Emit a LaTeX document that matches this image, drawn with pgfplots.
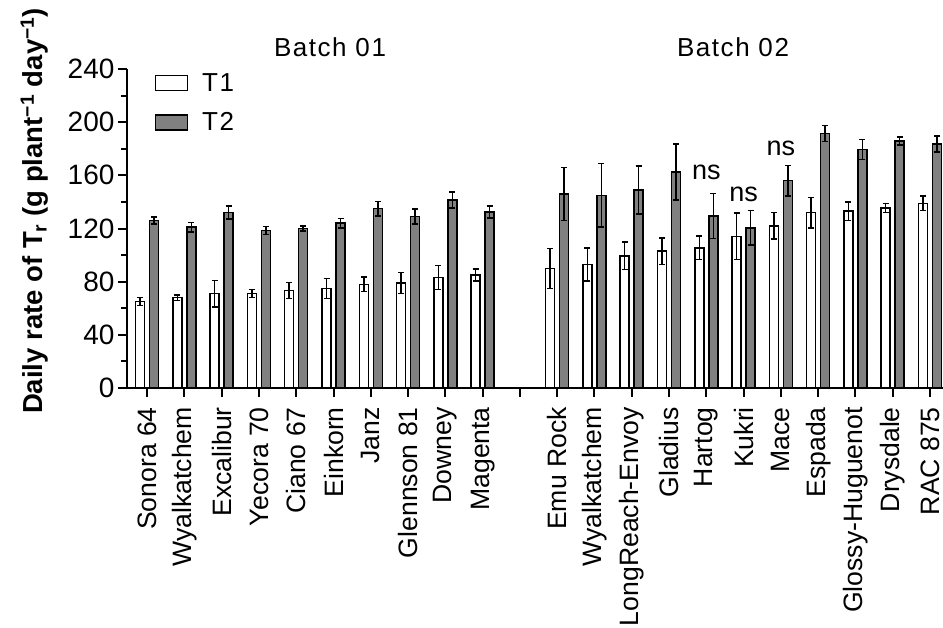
\documentclass[border=0pt]{standalone}
\usepackage{pgfplots}
\pgfplotsset{compat=1.18}
\usepackage{pgfplotstable}
\usepackage{fontspec}
\setmainfont{Liberation Sans}

\definecolor{barT2}{RGB}{128,128,128}
\newcommand\titlefont{\fontsize{26}{30}\selectfont\addfontfeatures{LetterSpace=6}}

% x = category slot (10 is the gap between the two batches)
\pgfplotstableread{
x  t1    e1   t2    e2
0  65    3    126   2.5
1  68    2    121   3.5
2  71    10   132   5
3  71    3    118.5 3
4  73.5  6    120   2
5  75    7.5  124   3.5
6  78    5.5  135   5.5
7  79    8    129   5.5
8  83    9    141.5 6
9  85    4.5  132.5 4.5
11 90    15   146   20
12 93    12.5 145   24
13 99.5  10.5 149   18
14 103   10   162.5 21
15 105.5 9    129.5 17
16 114   17.5 120.5 13
17 122   10   156   11.5
18 132   11.5 191.5 6
19 133   7    179.5 7.5
20 135.5 3.5  186   3
21 139   5.5  183.5 6
}\rates

\begin{document}
\begin{tikzpicture}
\useasboundingbox (0pt,0pt) rectangle (943pt,-627pt);
\clip (0pt,0pt) rectangle (943pt,-627pt);
\begin{axis}[
  at={(127pt,-388pt)}, anchor=south west,
  scale only axis, width=816pt, height=319pt,
  xmin=-0.54, xmax=21.35, ymin=0, ymax=240,
  clip=false,
  axis x line=bottom, axis y line=left,
  axis line style={line width=2.5pt, -},
  ytick={0,40,...,240}, minor ytick={20,60,...,220},
  xtick={0,...,21},
  xticklabels={Sonora 64,Wyalkatchem,Excalibur,Yecora 70,Ciano 67,Einkorn,Janz,Glennson 81,Downey,Magenta,{},Emu Rock,Wyalkatchem,LongReach-Envoy,Gladius,Hartog,Kukri,Mace,Espada,Glossy-Huguenot,Drysdale,RAC 875},
  tick align=outside,
  major tick length=9pt, minor tick length=6pt,
  every tick/.style={black, line width=2pt},
  /pgf/number format/assume math mode=true,
  x tick label style={rotate=90, anchor=east, inner xsep=10pt, font=\fontsize{26.6}{30}\selectfont},
  y tick label style={font=\fontsize{28}{32}\selectfont},
  ylabel={\textbf{Daily rate of T\textsubscript{r} (g plant\textsuperscript{−1} day\textsuperscript{−1})}},
  ylabel style={at={(axis description cs:-0.103,0.555)}, anchor=base, font=\fontsize{27.5}{30}\selectfont},
  legend image code/.code={\draw[#1, line width=1.5pt] (0pt,-7.5pt) rectangle (32pt,7.5pt);},
  legend style={at={(axis description cs:0.03,1.0)}, anchor=north west, draw=none, fill=none,
    font=\titlefont, nodes={font=\titlefont}, row sep=16pt,
    /tikz/every odd column/.append style={column sep=12pt}},
  legend cell align=left,
]
\addplot[ybar, bar width=9pt, bar shift=0pt, draw=black, fill=white, line width=1.5pt,
  error bars/.cd, y dir=both, y explicit,
  error bar style={line width=1.5pt, black},
  error mark options={rotate=90, mark size=3pt, line width=1.5pt, black}]
  table[x expr=\thisrow{x}-0.188, y=t1, y error=e1] {\rates};
\addlegendentry{T1}
\addplot[ybar, bar width=9pt, bar shift=0pt, draw=black, fill=barT2, line width=1.5pt,
  error bars/.cd, y dir=both, y explicit,
  error bar style={line width=1.5pt, black},
  error mark options={rotate=90, mark size=3pt, line width=1.5pt, black}]
  table[x expr=\thisrow{x}+0.188, y=t2, y error=e2] {\rates};
\addlegendentry{T2}
\node[anchor=base, font=\fontsize{27}{30}\selectfont] at (axis cs:15,156.5) {ns};
\node[anchor=base, font=\fontsize{27}{30}\selectfont] at (axis cs:16,140) {ns};
\node[anchor=base, font=\fontsize{27}{30}\selectfont] at (axis cs:17,175) {ns};
\end{axis}
\node[anchor=base, font=\titlefont] at (330pt,-56.7pt) {Batch 01};
\node[anchor=base, font=\titlefont] at (733pt,-56.7pt) {Batch 02};
\end{tikzpicture}
\end{document}
